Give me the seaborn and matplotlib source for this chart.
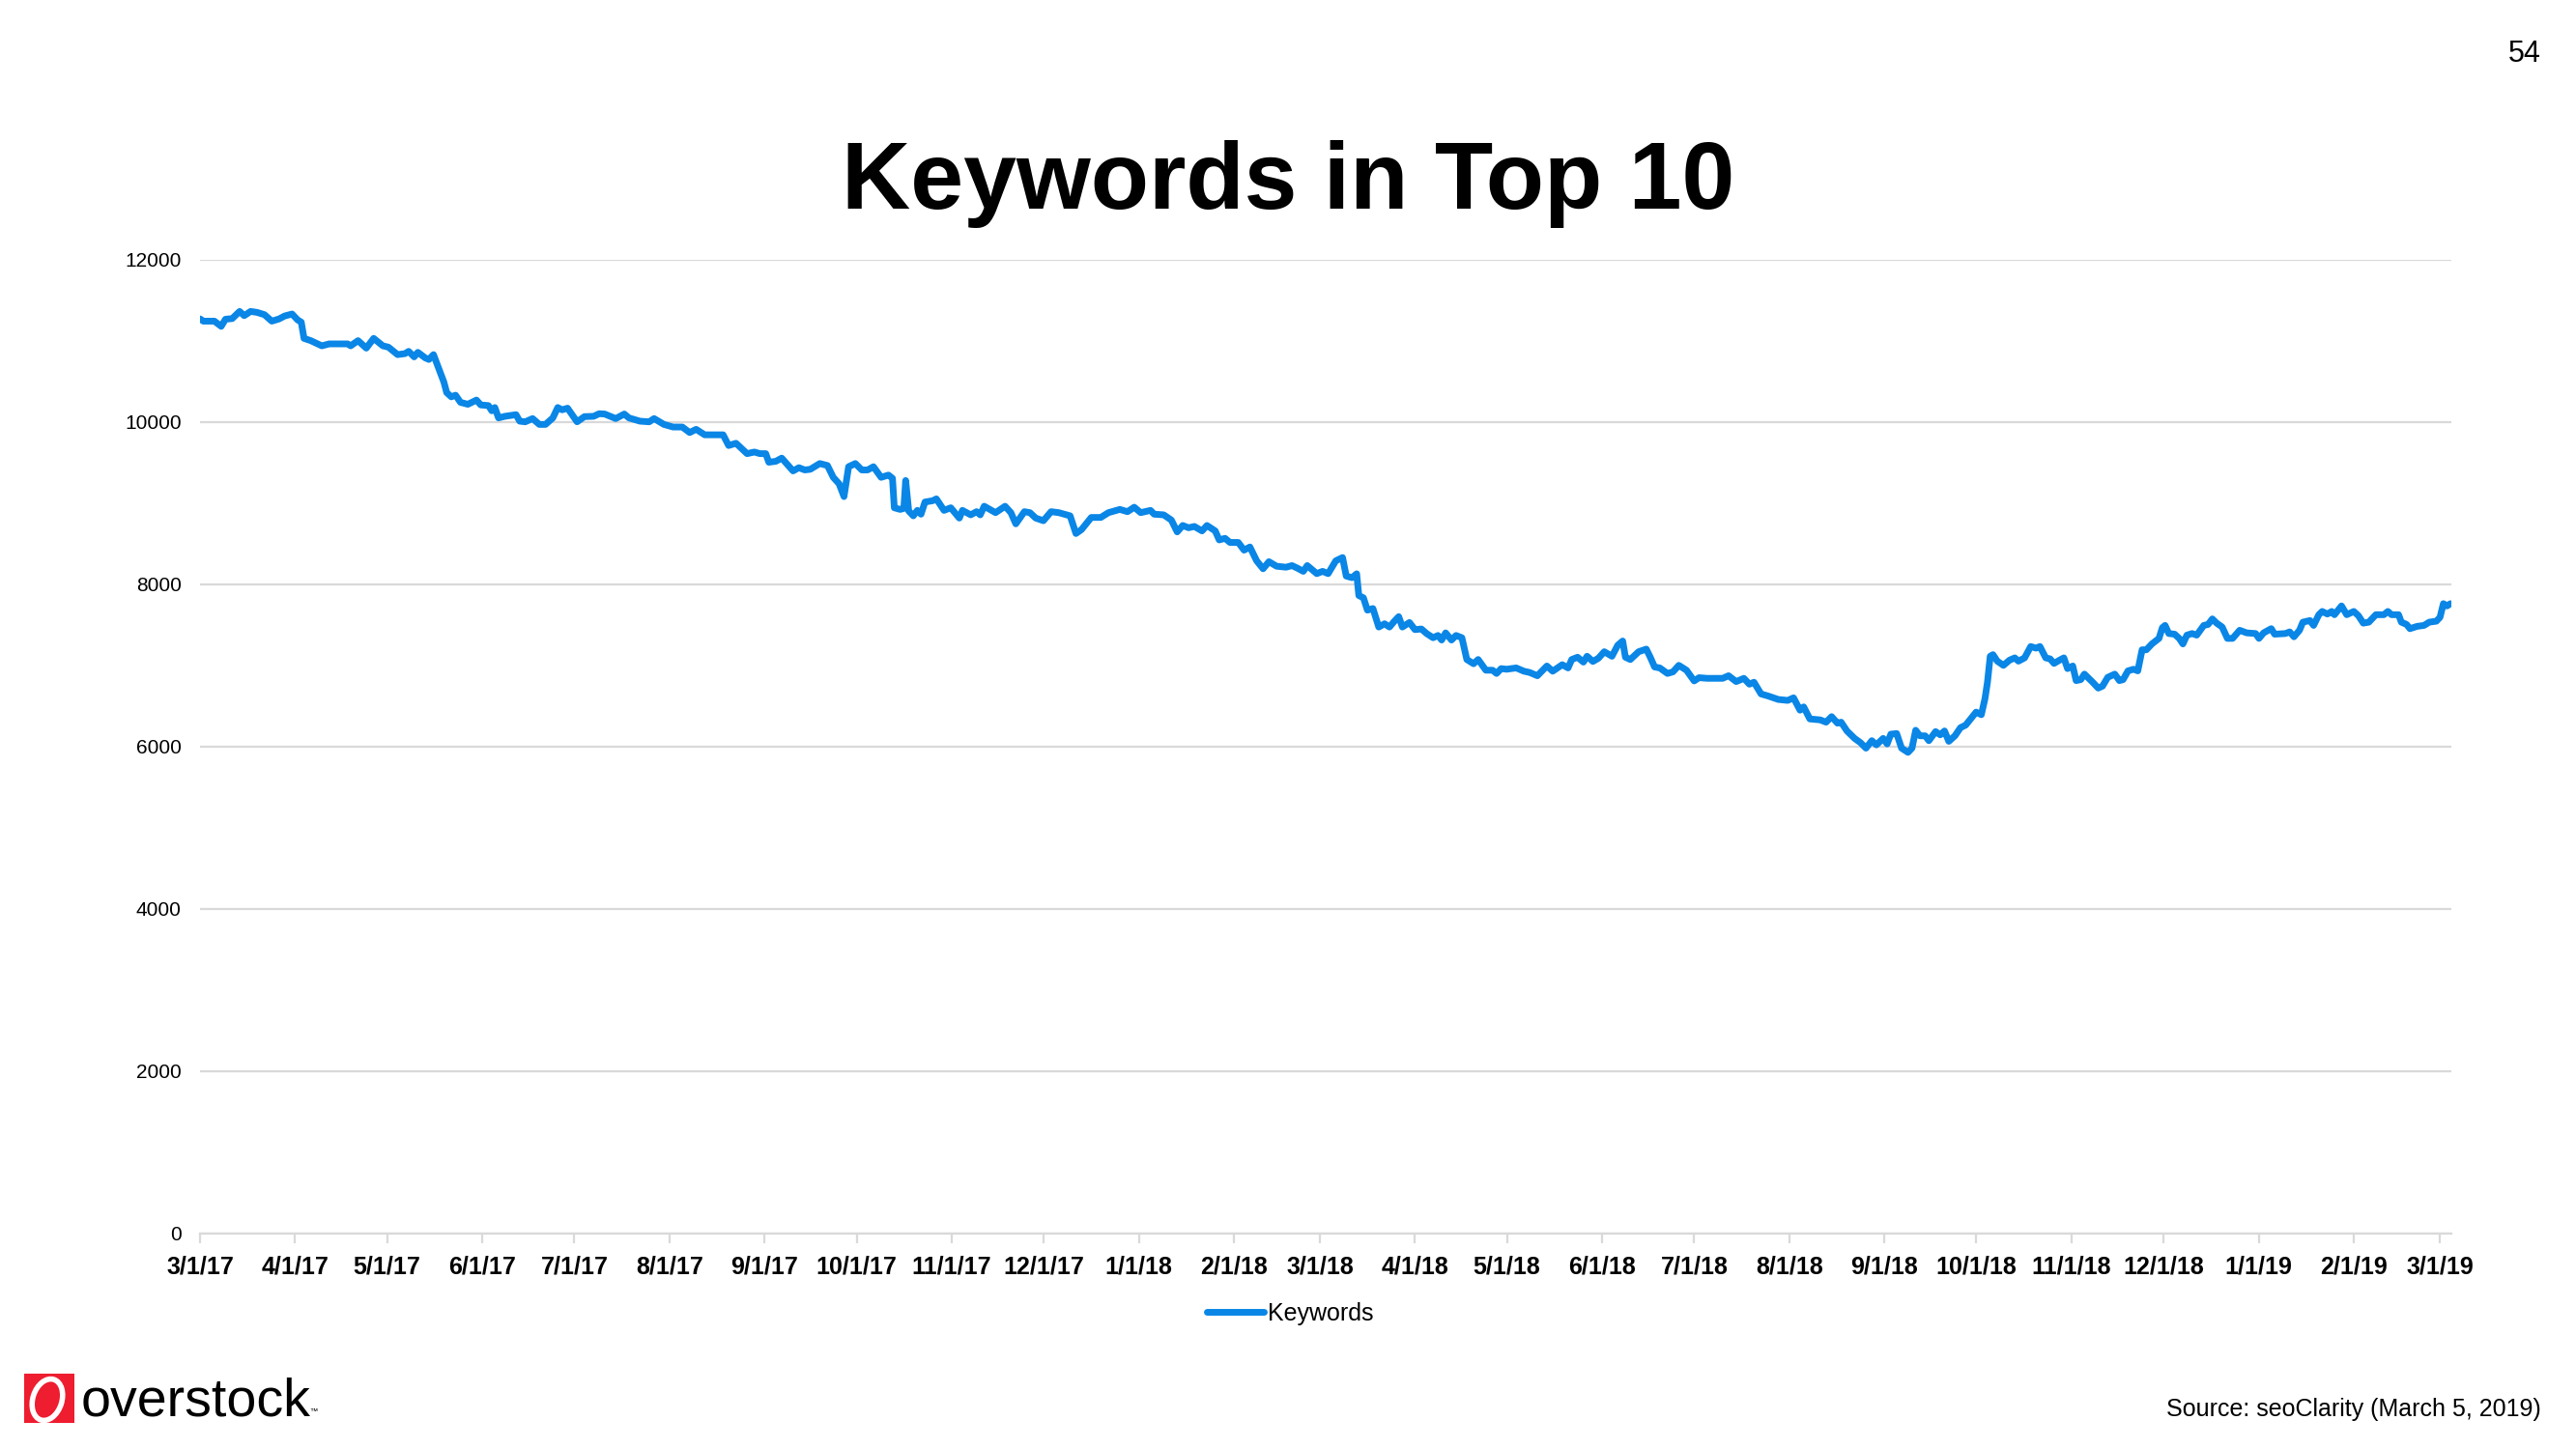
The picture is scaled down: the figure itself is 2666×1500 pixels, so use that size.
import numpy as np
import pandas as pd
import matplotlib
matplotlib.use("Agg")
import matplotlib.pyplot as plt
from matplotlib.patches import Rectangle, Ellipse
import seaborn as sns

# ---------------- data ----------------
start_date = "2017-03-01"
day_offsets = [
    0, 1.1, 4.7, 6.9, 8.3, 10.5, 12.9, 14.4, 16.5, 18.6, 21, 23.4, 25.8, 27.6, 30, 31.8, 33, 33.9,
    36.1, 39.7, 42.1, 43.9, 48.1, 49.1, 51.5, 54.2, 56.6, 59.6, 61.4, 64.4, 66.8, 68, 69.8, 71,
    73.4, 74.6, 76.1, 77.7, 79.5, 80.4, 81.9, 83.3, 84.9, 87.3, 90.1, 91.5, 94, 95.1, 96.1, 97.3,
    99.4, 103, 104.2, 106, 108.4, 110.6, 112.6, 115, 116.6, 118, 119.8, 122.9, 125.3, 128.3, 130.1,
    131.9, 135.5, 138.3, 139.8, 143.4, 146.4, 148, 151.2, 154.2, 157.2, 159.6, 161.7, 164.5, 170.5,
    172.3, 174.7, 178.3, 180.7, 182.5, 184.4,
    185.4, 187.7, 189.6, 193.3, 195.2, 197.1, 198.9, 202, 204.5, 206.4, 208.3, 209.9, 211.4, 213.6,
    215.7, 217.6, 219.5, 222, 224.4, 225.7, 226.3, 228.2, 229.4, 230, 231, 232.5, 233.8, 235, 236.3,
    238.8, 240, 242.5, 244.7, 247.5, 248.5, 251.2, 253.1, 254.3, 255.6, 257.4, 259.3, 262.4, 264.3,
    265.9, 268.7, 270.5, 272.4, 274.9, 277.4, 279.9, 283.6, 285.5, 287.3, 290.5, 293.6, 296.1, 299.8,
    302.3, 304.5, 306.6, 309.8, 311, 314.1, 316.6, 318.5, 320.3, 322.2, 324.1, 326.6, 328.2, 330.9,
    332.2, 334.1, 335.7, 338.4, 340.3, 342.2, 344.4, 346.5, 348.4, 350.9, 354, 355.9, 357.7, 359.6,
    360.9, 364, 365.9, 367.7, 370.2,
    372.4, 373.6, 375.5, 377, 377.7, 379.2, 380.5, 382.3, 384.2, 386.1, 387.7, 389.2, 390.7, 391.9,
    394.2, 396, 398.1, 399.8, 401.9, 403.5, 404.7, 406, 407.9, 409.4, 411.3, 412.9, 415.1, 416.6,
    419.1, 421.3, 422.6, 424.1, 425.9, 429, 431.5, 433.4, 435.9, 439, 440.9, 444, 445.9, 447.1, 449,
    450.9, 452.1, 454, 455.8, 457.7, 460.2, 462.1, 463.7, 464.6, 466.2, 468.9, 471.4, 472.7, 474.1,
    475.8, 478.3, 480.1, 482, 484.5, 487, 488.6, 491.3, 496.3, 498.2, 500.7, 503.2, 505, 506.5,
    508.8, 511.3, 514.4, 517.5, 519.4, 521.5, 522.7, 524.7, 528.1, 530, 531.8, 533.7, 534.9, 536.8,
    539.3, 541.2, 543, 544.9, 546.4, 548.6, 549.9, 551.1, 553, 554.6, 556.7, 558, 559.2,
    560.6, 562.3, 563.5, 565.7, 567.2, 568.6, 570, 572, 573.8, 575.5, 577.2, 578.9, 580.6, 581.8,
    582.6, 583.5, 584.4, 585.8, 587.8, 589.8, 591.5, 592.7, 594.7, 596.7, 598.4, 599.7, 601.6, 603,
    604.3, 606.1, 607.5, 608.7, 610.4, 611.5, 613, 614.2, 615.6, 616.9, 618.7, 620.1, 621.8, 624.1,
    625.6, 626.8, 628.4, 630.2, 631.6, 633, 634.4, 636.2, 638.5, 639.6, 640.5, 641.7, 643.6, 645.1,
    646.3, 647.6, 649.3, 650.8, 653.1, 654.5, 655.9, 657.3, 659.1, 660.8, 662.5, 664.8, 667.1, 670,
    671.1, 672.6, 675.1, 676.2, 679.7, 681.1, 682.5, 684.3, 685.4, 687.7, 688.9, 690.6, 691.7, 693.4,
    694.8, 695.7, 698, 699.7, 702, 703.5, 705.1, 706.9, 709.2, 711.8, 713.1, 714.3, 716.6, 717.5,
    719.2, 720.3, 722.6, 724.9, 726.6, 728.9, 730.1, 731.2, 732.4, 733.5,
]
keywords = [
    11268, 11240, 11240, 11176, 11264, 11272, 11360, 11308, 11360, 11348, 11320, 11240, 11268, 11304,
    11328, 11256, 11228, 11028, 11000, 10936, 10960, 10960, 10960, 10936, 11000, 10908, 11028, 10936,
    10920, 10828, 10840, 10868, 10800, 10856, 10788, 10768, 10828, 10668, 10488, 10360, 10308, 10328,
    10240, 10216, 10268, 10208, 10200, 10136, 10176, 10048, 10068, 10088, 10008, 10000, 10040, 9968,
    9968, 10048, 10176, 10148, 10168, 10000, 10064, 10068, 10100, 10096, 10040, 10096, 10048, 10008,
    10000, 10040, 9968, 9936, 9936, 9868, 9908, 9840, 9840, 9708, 9736, 9608, 9628, 9608, 9608,
    9502, 9514, 9553, 9395, 9435, 9407, 9415, 9486, 9462, 9316, 9237, 9079, 9447, 9486, 9407, 9407,
    9447, 9316, 9344, 9304, 8941, 8921, 8933, 9277, 8901, 8842, 8909, 8862, 9012, 9028, 9051, 8909,
    8941, 8814, 8909, 8854, 8893, 8854, 8960, 8921, 8881, 8960, 8881, 8743, 8893, 8881, 8814, 8782,
    8893, 8881, 8842, 8624, 8672, 8822, 8822, 8881, 8921, 8893, 8948, 8881, 8909, 8862, 8854, 8790,
    8644, 8723, 8695, 8711, 8656, 8723, 8656, 8545, 8565, 8514, 8514, 8419, 8458, 8288, 8190, 8277,
    8221, 8209, 8229, 8197, 8158, 8229, 8130, 8158, 8130, 8288,
    8328, 8100, 8080, 8128, 7860, 7832, 7680, 7700, 7472, 7512, 7472, 7540, 7600, 7472, 7528, 7440,
    7448, 7392, 7340, 7368, 7312, 7400, 7312, 7368, 7340, 7072, 7020, 7072, 6940, 6940, 6900, 6960,
    6952, 6968, 6928, 6912, 6872, 6992, 6928, 7008, 6968, 7072, 7100, 7040, 7112, 7048, 7088, 7168,
    7112, 7248, 7300, 7100, 7072, 7168, 7200, 7100, 6980, 6968, 6900, 6920, 7000, 6940, 6808, 6848,
    6840, 6840, 6872, 6800, 6840, 6768, 6792, 6648, 6620, 6580, 6568, 6600, 6448, 6488, 6340, 6328,
    6300, 6368, 6288, 6300, 6192, 6100, 6048, 5980, 6072, 6020, 6100, 6032, 6152, 6160, 5980, 5928,
    5980, 6200,
    6132, 6132, 6072, 6184, 6144, 6192, 6064, 6132, 6232, 6264, 6344, 6424, 6392, 6592, 6792, 7112,
    7132, 7052, 7000, 7064, 7092, 7052, 7092, 7232, 7212, 7232, 7092, 7080, 7024, 7064, 7092, 6960,
    6992, 6812, 6824, 6892, 6840, 6792, 6720, 6744, 6852, 6892, 6812, 6824, 6932, 6952, 6932, 7192,
    7192, 7264, 7332, 7464, 7492, 7392, 7384, 7332, 7264, 7372, 7392, 7372, 7492, 7504, 7572, 7520,
    7472, 7332, 7332, 7432, 7400, 7392, 7332, 7400, 7452, 7384, 7392, 7412, 7352, 7432, 7532, 7552,
    7492, 7624, 7664, 7632, 7664, 7624, 7732, 7624, 7664, 7612, 7520, 7532, 7624, 7624, 7664, 7624,
    7624, 7532, 7504, 7452, 7480, 7492, 7532, 7544, 7592, 7760, 7732, 7760,
]
month_ticks = pd.date_range("2017-03-01", "2019-03-01", freq="MS")
y_ticks = [0, 2000, 4000, 6000, 8000, 10000, 12000]
series_name = "Keywords"
title_text = "Keywords in Top 10"
page_number = "54"
source_text = "Source: seoClarity (March 5, 2019)"
logo_text = "overstock"

# ---------------- style ----------------
sns.set_style("white")
plt.rcParams["font.family"] = ["Liberation Sans", "DejaVu Sans"]
plt.rcParams["text.color"] = "black"

W, H = 2666, 1500
fig = plt.figure(figsize=(W / 100, H / 100), dpi=100)
fig.patch.set_facecolor("white")

ax_left, ax_right, ax_top, ax_bottom = 207, 2537, 268.6, 1277
ax = fig.add_axes([ax_left / W, 1 - ax_bottom / H, (ax_right - ax_left) / W, (ax_bottom - ax_top) / H])

df = pd.DataFrame({
    "Date": pd.Timestamp(start_date) + pd.to_timedelta(day_offsets, unit="D"),
    series_name: keywords,
})

line_color = "#0A86E6"
grid_color = "#D9D9D9"

sns.lineplot(data=df, x="Date", y=series_name, ax=ax, color=line_color, linewidth=5.0,
             label=series_name, estimator=None, solid_joinstyle="round", solid_capstyle="round")

t0 = pd.Timestamp(start_date)
ax.set_xlim(t0, t0 + pd.Timedelta(days=733.8))
ax.set_ylim(0, 12000)
ax.set_yticks(y_ticks)
ax.set_yticklabels([str(v) for v in y_ticks], fontsize=15, color="black")
ax.yaxis.grid(True, color=grid_color, linewidth=1.6)
ax.xaxis.grid(False)
ax.set_axisbelow(True)
for s in ["top", "right", "left"]:
    ax.spines[s].set_visible(False)
ax.spines["bottom"].set_color(grid_color)
ax.spines["bottom"].set_linewidth(1.6)

ax.set_xticks(month_ticks)
ax.set_xticklabels([f"{d.month}/{d.day}/{d.year % 100}" for d in month_ticks],
                   fontsize=18, fontweight="bold", color="black")
ax.tick_params(axis="x", length=7, width=1.6, color=grid_color, pad=9, bottom=True)
ax.tick_params(axis="y", length=0, pad=14)
ax.set_xlabel("")
ax.set_ylabel("")

leg = ax.legend(loc="center", bbox_to_anchor=(1335 / W, 1 - 1360 / H), bbox_transform=fig.transFigure,
                frameon=False, fontsize=18, handlelength=2.36, handletextpad=0.16)
for t in leg.get_texts():
    t.set_color("black")

# ---------------- slide texts ----------------
fig.text(0.5, 1 - 216 / H, title_text, ha="center", va="baseline", fontsize=71,
         fontweight="bold", color="black")
fig.text(2630 / W, 1 - 56 / H, page_number, ha="right", va="center", fontsize=22, color="black")
fig.text(2630 / W, 1 - 1466 / H, source_text, ha="right", va="baseline", fontsize=18, color="black")

# logo
ax_logo = fig.add_axes([25 / W, 1 - 1473 / H, 52 / W, 51 / H])
ax_logo.set_xlim(0, 52)
ax_logo.set_ylim(0, 51)
ax_logo.axis("off")
ax_logo.add_patch(Rectangle((0, 0), 52, 51, color="#EE1D2F"))
ax_logo.add_patch(Ellipse((24, 24), 30, 44, angle=-18, facecolor="none", edgecolor="white", linewidth=4))
fig.text(84 / W, 1 - 1465 / H, logo_text, ha="left", va="baseline", fontsize=40, color="black")
fig.text(320 / W, 1 - 1463 / H, "™", ha="left", va="baseline", fontsize=6, color="black")

fig.savefig("out.png", dpi=100, facecolor="white")
